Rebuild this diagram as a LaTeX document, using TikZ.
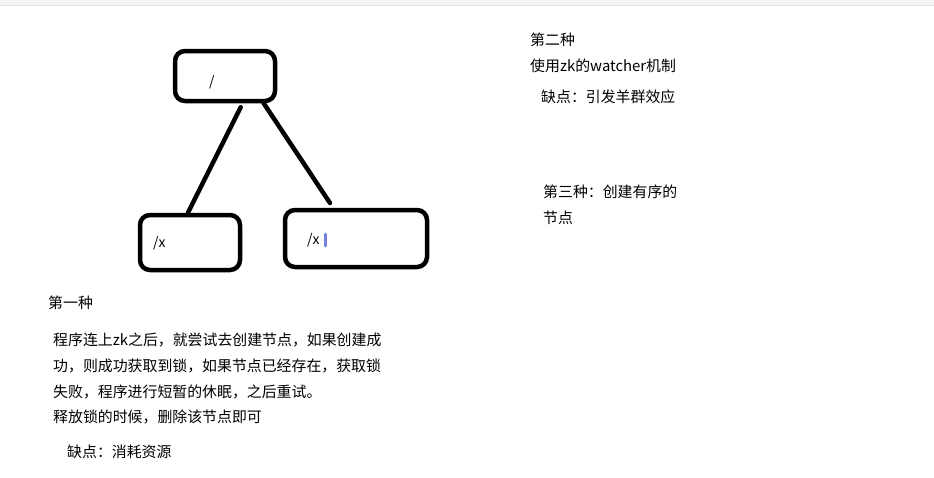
\documentclass[tikz,border=0pt]{standalone}
\usepackage{fontspec}
\setmainfont{Noto Sans CJK SC}
\usepackage{xcolor}
\usetikzlibrary{positioning, calc}
\definecolor{barbg}{RGB}{243, 244, 246}
\definecolor{barline}{RGB}{226, 228, 232}
\definecolor{penblue}{RGB}{120, 128, 230}

\begin{document}
\begin{tikzpicture}[
  x = 1pt, y = -1pt,
  zbox/.style = {rectangle, rounded corners=10pt, draw=black, line width=4.5pt,
                 inner sep=0pt},
  link/.style = {line width=4.5pt, line cap=round, color=black},
  path/.style = {anchor=west, inner sep=0pt, font=\fontsize{14}{17}\selectfont},
  note/.style = {anchor=west, inner sep=0pt, font=\fontsize{14.9}{17}\selectfont}
]
\useasboundingbox (0,0) rectangle (934,477);

% top bar
\fill[barbg] (0,0) rectangle (934,6);
\draw[barline, line width=1pt] (0,5.5) -- (934,5.5);

% znode tree
\node[zbox, minimum width=100pt, minimum height=50pt] (root)   at (225,76)    {};
\node[zbox, minimum width=100pt, minimum height=55pt] (childa) at (190,242.5) {};
\node[zbox, minimum width=142pt, minimum height=57pt] (childb) at (356,238.5) {};

\node[path] (rootname) at (209,82)  {/};
\node[path] (aname)    at (153,243) {/x};
\node[path] (bname)    at (307,240) {/x};
\draw[penblue, line width=3pt, line cap=round] ($(bname.east)+(6,-6)$) -- ($(bname.east)+(6,6)$);

\coordinate (bgap) at (330,203);
\draw[link] ($(root.south west)!0.65!(root.south east)+(0,4)$) -- ($(childa.north west)!0.48!(childa.north east)$);
\draw[link] ($(root.south west)!0.87!(root.south east)$) -- (bgap);

% first way
\node[note] (way1)  at (48,303)  {第一种};
\node[note] (line1) at (53,340)  {程序连上zk之后，就尝试去创建节点，如果创建成};
\node[note] (line2) at (53,366)  {功，则成功获取到锁，如果节点已经存在，获取锁};
\node[note] (line3) at (53,392)  {失败，程序进行短暂的休眠，之后重试。};
\node[note] (line4) at (53,417)  {释放锁的时候，删除该节点即可};
\node[note] (cons1) at (67,452)  {缺点：消耗资源};

% second way
\node[note] (way2)  at (530,40)  {第二种};
\node[note] (use2)  at (530,66)  {使用zk的watcher机制};
\node[note] (cons2) at (541,97)  {缺点：引发羊群效应};

% third way
\node[note] (way3)  at (543,192) {第三种：创建有序的};
\node[note] (way3b) at (543,218) {节点};

\end{tikzpicture}
\end{document}
